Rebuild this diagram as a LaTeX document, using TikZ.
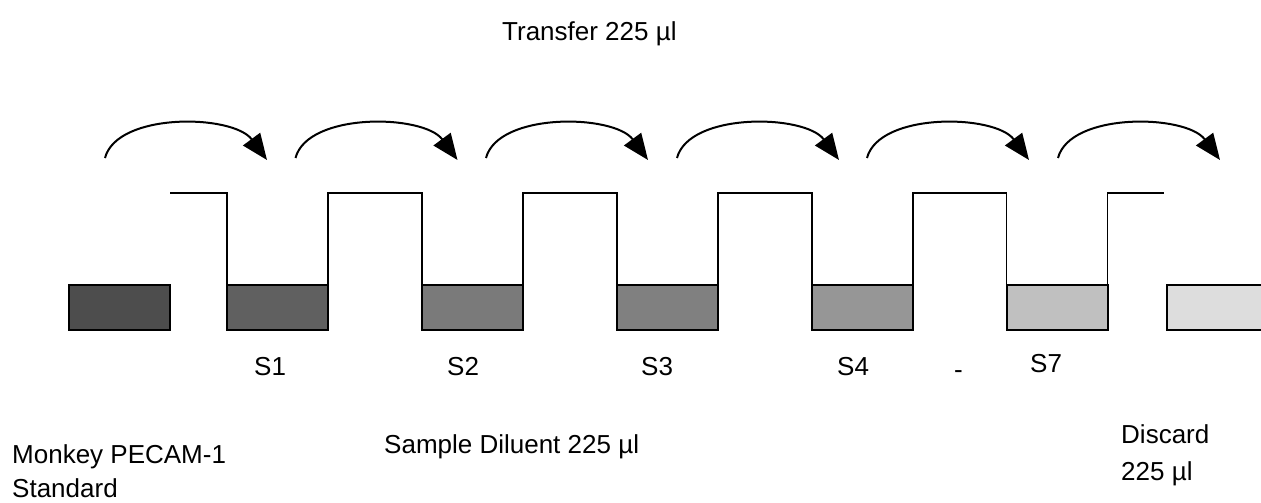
\documentclass[tikz,border=0pt]{standalone}
\usepackage{fontspec}
\setmainfont{Liberation Sans}
\usetikzlibrary{arrows.meta,calc}
\begin{document}
\begin{tikzpicture}[x=1pt,y=-1pt,
  well/.style={draw=black, line width=2pt, minimum width=101pt, minimum height=45pt, inner sep=0pt, outer sep=0pt},
  wall/.style={draw=black, line width=1.8pt, line join=miter},
  xfer/.style={draw=black, line width=2pt, -{Triangle[length=26pt,width=21pt]}},
  lbl/.style={anchor=base west, inner sep=0pt, font=\fontsize{26}{31}\selectfont},
  topmark/.style={draw=black, line width=2.6pt}]
\useasboundingbox (0,0) rectangle (1261,503);
% wells
\node[well, fill={rgb,255:red,77;green,77;blue,77}]    (w0) at (119.5,307) {};
\node[well, fill={rgb,255:red,96;green,96;blue,96}]    (w1) at (277.5,307) {};
\node[well, fill={rgb,255:red,122;green,122;blue,122}] (w2) at (472.5,307) {};
\node[well, fill={rgb,255:red,128;green,128;blue,128}] (w3) at (667.5,307) {};
\node[well, fill={rgb,255:red,150;green,150;blue,150}] (w4) at (862.5,307) {};
\node[well, fill={rgb,255:red,192;green,192;blue,192}] (w5) at (1057,307) {};
\node[well, fill={rgb,255:red,221;green,221;blue,221}] (w6) at (1217.5,307) {};
% walls
\coordinate (top) at (0,193);
\coordinate (s0) at (170,193);
\coordinate (e6) at (1164,193);
\draw[wall] (s0) -- (w1.north west |- top) -- (w1.north west);
\draw[wall] (w1.north east) -- (w1.north east |- top) -- (w2.north west |- top) -- (w2.north west);
\draw[wall] (w2.north east) -- (w2.north east |- top) -- (w3.north west |- top) -- (w3.north west);
\draw[wall] (w3.north east) -- (w3.north east |- top) -- (w4.north west |- top) -- (w4.north west);
\draw[wall] (w4.north east) -- (w4.north east |- top) -- (w5.north west |- top) -- (w5.north west);
\draw[wall] (w5.north east) -- (w5.north east |- top) -- (e6);
% small marks on the top segments
\foreach \m in {375,570,765,959.5} \draw[topmark] (\m-10,193) -- (\m+10,193);
% transfer arrows
\foreach \i/\sx in {1/105,2/295.5,3/486,4/677,5/867,6/1058} {
  \coordinate (a\i) at (\sx,158);
  \coordinate (b\i) at (\sx+162,160);
  \draw[xfer] (a\i) .. controls ($(a\i)+(12,-46)$) and ($(b\i)+(-34,-46)$) .. (b\i);
}
% labels
\node[lbl] (tr) at (502,41) {Transfer 225 µl};
\node[lbl] (l1) at (254,375) {S1};
\node[lbl] (l2) at (447,375) {S2};
\node[lbl] (l3) at (641,375) {S3};
\node[lbl] (l4) at (837,375) {S4};
\node[lbl] (ld) at (954,378) {-};
\node[lbl] (l7) at (1030,372) {S7};
\node[lbl] (sd) at (384,453) {Sample Diluent 225 µl};
\node[lbl] (ms) at (12,463) {Monkey PECAM-1};
\node[lbl] (st) at (12,497) {Standard};
\node[lbl] (dc) at (1121,443) {Discard};
\node[lbl] (dv) at (1121,480) {225 µl};
\end{tikzpicture}
\end{document}
